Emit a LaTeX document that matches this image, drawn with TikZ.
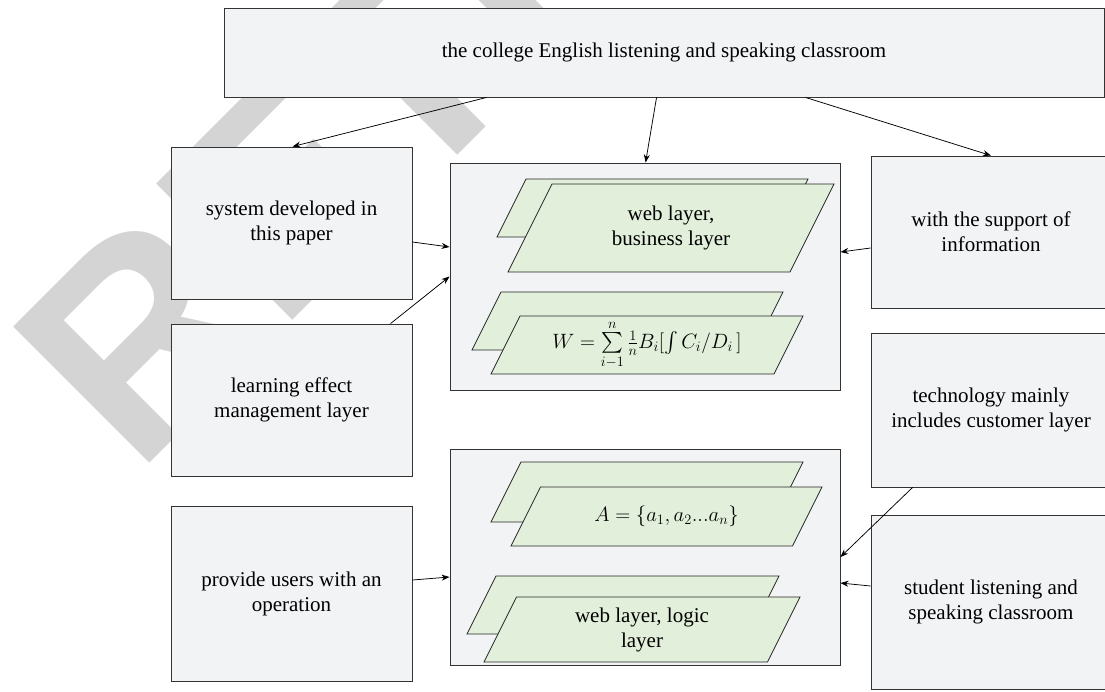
\documentclass[tikz,border=0pt]{standalone}
\usepackage{amsmath}
\usepackage{fontspec}
\setmainfont{Liberation Serif}
\newfontfamily\stampfont{Liberation Sans}
\usetikzlibrary{arrows.meta}
\definecolor{boxgray}{HTML}{F2F3F5}
\definecolor{layergreen}{HTML}{E2EFDA}
\definecolor{stampgray}{HTML}{D4D4D4}

% parallelogram layer: name, centre x, centre y, full width, height, text
\newcommand{\layerbox}[6]{%
  \filldraw[layer] ({#2-#4/2},{#3+#5/2}) -- ({#2+#4/2-#5/2},{#3+#5/2})
    -- ({#2+#4/2},{#3-#5/2}) -- ({#2-#4/2+#5/2},{#3-#5/2}) -- cycle;
  \node[layertext] (#1) at (#2,#3) {#6};}

\begin{document}
\begin{tikzpicture}[x=1pt,y=-1pt,
  box/.style={draw=black!80, line width=0.9pt, fill=boxgray, inner sep=0pt,
    align=center, font=\fontsize{21}{25}\selectfont},
  layer/.style={draw=black!85, line width=0.8pt, fill=layergreen},
  layertext/.style={inner sep=0pt, align=center, font=\fontsize{21}{25}\selectfont},
  stamp/.style={text=stampgray, inner sep=0pt, font=\stampfont\bfseries\fontsize{280}{280}\selectfont},
  link/.style={-{Stealth[length=8pt,width=6pt]}, line width=0.75pt}]

  \useasboundingbox (0,0) rectangle (1105,691);
  \clip (0,0) rectangle (1105,691);

  % --- watermark behind everything ---
  \node[stamp, rotate=45, anchor=base west] (stamp) at (136.5,476.5) {RETRACTED};

  % --- top box ---
  \node[box, minimum width=880pt, minimum height=89pt] (top) at (664,52.5)
    {the college English listening and speaking classroom};

  % --- left column ---
  \node[box, minimum width=241pt, minimum height=152pt] (sys) at (291.5,223)
    {system developed in\\this paper};
  \node[box, minimum width=241pt, minimum height=152pt] (learn) at (291.5,400)
    {learning effect\\management layer};
  \node[box, minimum width=241pt, minimum height=175pt] (provide) at (291.5,593.5)
    {provide users with an\\operation};

  % --- right column ---
  \node[box, minimum width=240pt, minimum height=152pt] (support) at (991,232)
    {with the support of\\information};
  \node[box, minimum width=240pt, minimum height=154pt] (tech) at (991,410)
    {technology mainly\\includes customer layer};
  \node[box, minimum width=240pt, minimum height=174pt] (student) at (991,602)
    {student listening and\\speaking classroom};

  % --- middle boxes ---
  \node[box, minimum width=390pt, minimum height=227pt] (midA) at (645,276.5) {};
  \node[box, minimum width=390pt, minimum height=216pt] (midB) at (645,557) {};

  % --- layers inside the upper middle box ---
  \layerbox{webBack}{652.5}{208}{311}{58}{}
  \layerbox{webFront}{671}{228}{326}{88}{web layer,\\business layer}
  \layerbox{sumBack}{627.5}{321}{311}{58}{}
  \layerbox{sumFront}{647}{345}{312}{58}
    {$W=\sum\limits_{i-1}^{n}\frac{1}{n}B_i[\int C_i/D_i\,]$}

  % --- layers inside the lower middle box ---
  \layerbox{setBack}{647}{492}{312}{60}{}
  \layerbox{setFront}{666.5}{516.5}{311}{59}{$A=\{a_1,a_2...a_n\}$}
  \layerbox{logicBack}{623}{605}{312}{58}{}
  \layerbox{logicFront}{642}{629.5}{316}{65}{web layer, logic\\layer}

  % --- arrows ---
  \draw[link] ([xshift=263pt]top.south west) -- ([xshift=122pt]sys.north west);
  \draw[link] ([xshift=433pt]top.south west) -- ([xshift=196pt]midA.north west);
  \draw[link] ([xshift=582pt]top.south west) -- (support.north);
  \draw[link] ([yshift=-19pt]sys.east) -- ([yshift=29.5pt]midA.west);
  \draw[link] ([xshift=220pt]learn.north west) -- (midA.west);
  \draw[link] ([yshift=-16pt]support.west) -- ([yshift=24.5pt]midA.east);
  \draw[link] ([xshift=42pt]tech.south west) -- (midB.east);
  \draw[link] ([yshift=16pt]student.west) -- ([yshift=-26pt]midB.east);
  \draw[link] ([yshift=13.5pt]provide.east) -- ([yshift=-20pt]midB.west);

\end{tikzpicture}
\end{document}
